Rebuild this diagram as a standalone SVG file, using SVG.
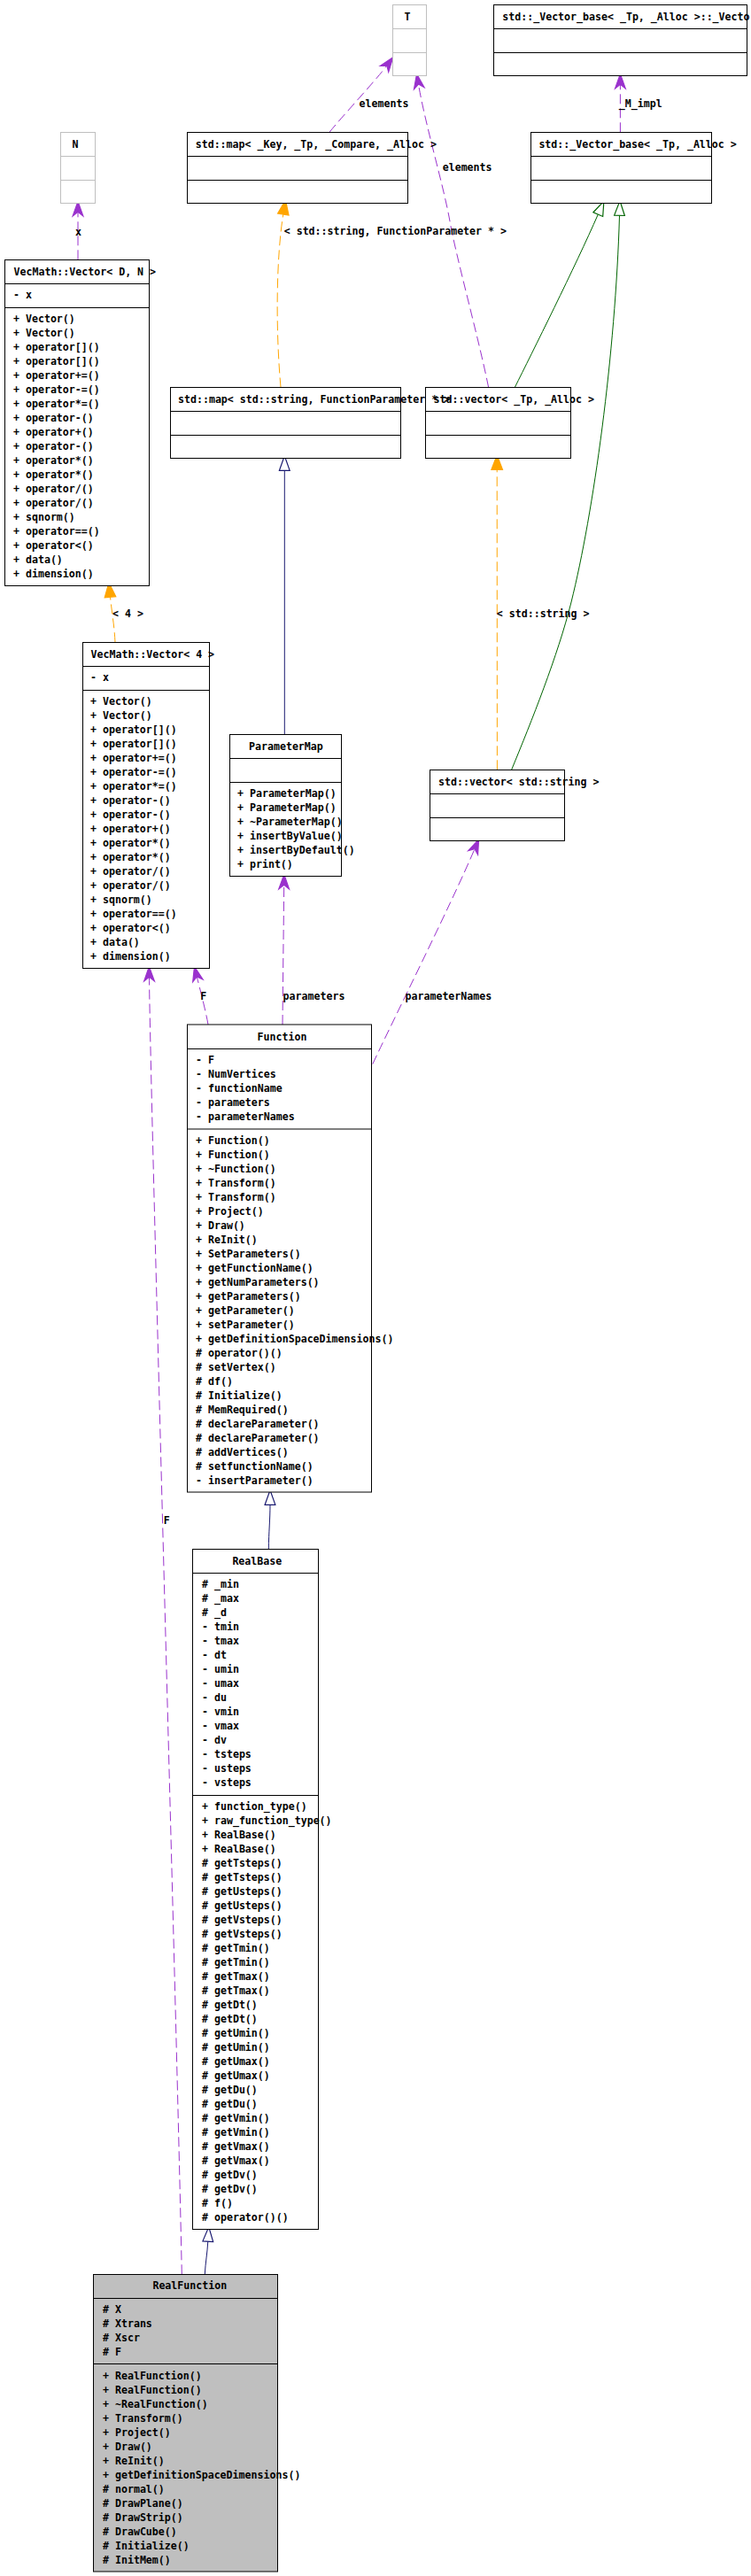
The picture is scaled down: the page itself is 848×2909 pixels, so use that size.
<svg xmlns="http://www.w3.org/2000/svg" width="848" height="2909" viewBox="0 0 848 2909">
<style>
text{font-family:"DejaVu Sans Mono","Liberation Mono",monospace;font-weight:bold;font-size:11.6px;fill:#000}
.m{text-anchor:middle}
.box{fill:#fff;stroke:#000;stroke-width:1}
.gb{fill:#fff;stroke:#bfbfbf;stroke-width:1}
.gf{fill:#bfbfbf;stroke:#000;stroke-width:1}
.dv{stroke:#000;stroke-width:1}
.dg{stroke:#bfbfbf;stroke-width:1}
.e{fill:none;stroke-width:1}
.pu{stroke:#9a32cd;stroke-dasharray:11,5;marker-end:url(#vee)}
.or{stroke:#ffa500;stroke-dasharray:11,5;marker-end:url(#tri)}
.gr{stroke:#006400;marker-end:url(#hg)}
.nv{stroke:#191970;marker-end:url(#hn)}
</style>
<defs>
<marker id="vee" markerUnits="userSpaceOnUse" orient="auto" refX="4" refY="0" markerWidth="20" markerHeight="20" viewBox="-1 -7 17 14" overflow="visible"><path d="M0,-5 L14,0 L0,5 L4,0 Z" fill="#9a32cd" stroke="#9a32cd" stroke-width="1"/></marker>
<marker id="tri" markerUnits="userSpaceOnUse" orient="auto" refX="0" refY="0" markerWidth="20" markerHeight="20" viewBox="-1 -7 16 14" overflow="visible"><path d="M0,-5 L13,0 L0,5 Z" fill="#ffa500" stroke="#ffa500" stroke-width="1"/></marker>
<marker id="hg" markerUnits="userSpaceOnUse" orient="auto" refX="0" refY="0" markerWidth="20" markerHeight="20" viewBox="-1 -7 17 14" overflow="visible"><path d="M0,-5 L14,0 L0,5 Z" fill="#fff" stroke="#006400" stroke-width="1"/></marker>
<marker id="hn" markerUnits="userSpaceOnUse" orient="auto" refX="0" refY="0" markerWidth="20" markerHeight="20" viewBox="-1 -7 17 14" overflow="visible"><path d="M0,-5 L14,0 L0,5 Z" fill="#fff" stroke="#191970" stroke-width="1"/></marker>
</defs>
<rect x="0" y="0" width="848" height="2909" fill="#fff"/>

<g id="edges">
<path class="e pu" d="M88,293.3 L88,239.3"/>
<text x="85" y="266">x</text>
<path class="e pu" d="M372,149.3 C385,133 425,90 436.8,74.1"/>
<text x="405.6" y="121">elements</text>
<path class="e pu" d="M551.6,437.3 C540,380 515,290 508,250 C501,210 480,140 472.5,95.1"/>
<text x="499.7" y="193">elements</text>
<path class="e pu" d="M700.4,149.3 L700.4,95.3"/>
<text x="698.8" y="121">_M_impl</text>
<path class="e or" d="M317,437.3 C311,370 312,290 319.8,242"/>
<text x="320.7" y="265">&lt; std::string, FunctionParameter * &gt;</text>
<path class="e gr" d="M581.4,437.3 C600,400 650,300 675.3,242.1"/>
<path class="e gr" d="M577.6,869.3 C600,815 630,740 645,680 C670,580 695,400 699.5,243.3"/>
<path class="e nv" d="M321.3,829.3 L321.3,531.3"/>
<path class="e or" d="M561.4,869.3 L561.2,530.3"/>
<text x="560.8" y="696.7">&lt; std::string &gt;</text>
<path class="e or" d="M130,725.3 C129,705 126,690 124.5,674.2"/>
<text x="127" y="696.7">&lt; 4 &gt;</text>
<path class="e pu" d="M319,1157 L320.7,999.3"/>
<text x="319.6" y="1129">parameters</text>
<path class="e pu" d="M420.8,1201.6 C440,1160 510,1020 536,958.6"/>
<text x="457.5" y="1129">parameterNames</text>
<path class="e pu" d="M235,1157 C232,1140 226,1118 222.3,1102.9"/>
<text x="226.3" y="1129">F</text>
<path class="e pu" d="M205.3,2568.2 C200,2300 170,1250 168.5,1103.3"/>
<text x="184.8" y="1721">F</text>
<path class="e nv" d="M303.3,1749.5 C303.5,1730 305,1715 305,1699.3"/>
<path class="e nv" d="M231.3,2568.2 C232,2555 234,2545 234.8,2531.2"/>
</g>

<g id="n_T">
<rect class="gb" x="443.5" y="5.5" width="38" height="80"/>
<line class="dg" x1="443.5" y1="32.5" x2="481.5" y2="32.5"/>
<line class="dg" x1="443.5" y1="59.5" x2="481.5" y2="59.5"/>
<text class="m" x="460" y="23">T</text>
</g>

<g id="n_vecimpl">
<rect class="box" x="557.5" y="5.5" width="286" height="80"/>
<line class="dv" x1="557.5" y1="32.5" x2="843.5" y2="32.5"/>
<line class="dv" x1="557.5" y1="59.5" x2="843.5" y2="59.5"/>
<text x="567.3" y="23">std::_Vector_base&lt; _Tp, _Alloc &gt;::_Vecto</text>
</g>

<g id="n_N">
<rect class="gb" x="68.5" y="149.5" width="39" height="80"/>
<line class="dg" x1="68.5" y1="176.5" x2="107.5" y2="176.5"/>
<line class="dg" x1="68.5" y1="203.5" x2="107.5" y2="203.5"/>
<text class="m" x="85" y="167">N</text>
</g>

<g id="n_mapkey">
<rect class="box" x="211.5" y="149.5" width="249" height="80"/>
<line class="dv" x1="211.5" y1="176.5" x2="460.5" y2="176.5"/>
<line class="dv" x1="211.5" y1="203.5" x2="460.5" y2="203.5"/>
<text x="220.7" y="167">std::map&lt; _Key, _Tp, _Compare, _Alloc &gt;</text>
</g>

<g id="n_vecbase">
<rect class="box" x="599.5" y="149.5" width="204" height="80"/>
<line class="dv" x1="599.5" y1="176.5" x2="803.5" y2="176.5"/>
<line class="dv" x1="599.5" y1="203.5" x2="803.5" y2="203.5"/>
<text x="608.4" y="167">std::_Vector_base&lt; _Tp, _Alloc &gt;</text>
</g>

<g id="n_vecDN">
<rect class="box" x="5.5" y="293.5" width="163" height="368"/>
<line class="dv" x1="5.5" y1="320.5" x2="168.5" y2="320.5"/>
<line class="dv" x1="5.5" y1="347.5" x2="168.5" y2="347.5"/>
<text x="15.5" y="311">VecMath::Vector&lt; D, N &gt;</text>
<text x="15" y="337.3">- x</text>
<text x="15" y="363.7"><tspan x="15" dy="0">+ Vector()</tspan><tspan x="15" dy="16">+ Vector()</tspan><tspan x="15" dy="16">+ operator[]()</tspan><tspan x="15" dy="16">+ operator[]()</tspan><tspan x="15" dy="16">+ operator+=()</tspan><tspan x="15" dy="16">+ operator-=()</tspan><tspan x="15" dy="16">+ operator*=()</tspan><tspan x="15" dy="16">+ operator-()</tspan><tspan x="15" dy="16">+ operator+()</tspan><tspan x="15" dy="16">+ operator-()</tspan><tspan x="15" dy="16">+ operator*()</tspan><tspan x="15" dy="16">+ operator*()</tspan><tspan x="15" dy="16">+ operator/()</tspan><tspan x="15" dy="16">+ operator/()</tspan><tspan x="15" dy="16">+ sqnorm()</tspan><tspan x="15" dy="16">+ operator==()</tspan><tspan x="15" dy="16">+ operator&lt;()</tspan><tspan x="15" dy="16">+ data()</tspan><tspan x="15" dy="16">+ dimension()</tspan></text>
</g>

<g id="n_vectp">
<rect class="box" x="480.5" y="437.5" width="164" height="80"/>
<line class="dv" x1="480.5" y1="464.5" x2="644.5" y2="464.5"/>
<line class="dv" x1="480.5" y1="491.5" x2="644.5" y2="491.5"/>
<text x="489.5" y="455">std::vector&lt; _Tp, _Alloc &gt;</text>
</g>

<g id="n_mapsf">
<rect class="box" x="192.5" y="437.5" width="260" height="80"/>
<line class="dv" x1="192.5" y1="464.5" x2="452.5" y2="464.5"/>
<line class="dv" x1="192.5" y1="491.5" x2="452.5" y2="491.5"/>
<text x="201" y="455">std::map&lt; std::string, FunctionParameter * &gt;</text>
</g>

<g id="n_vec4">
<rect class="box" x="93.5" y="725.5" width="143" height="368"/>
<line class="dv" x1="93.5" y1="752.5" x2="236.5" y2="752.5"/>
<line class="dv" x1="93.5" y1="779.5" x2="236.5" y2="779.5"/>
<text x="102.5" y="743">VecMath::Vector&lt; 4 &gt;</text>
<text x="102" y="769.3">- x</text>
<text x="102" y="795.7"><tspan x="102" dy="0">+ Vector()</tspan><tspan x="102" dy="16">+ Vector()</tspan><tspan x="102" dy="16">+ operator[]()</tspan><tspan x="102" dy="16">+ operator[]()</tspan><tspan x="102" dy="16">+ operator+=()</tspan><tspan x="102" dy="16">+ operator-=()</tspan><tspan x="102" dy="16">+ operator*=()</tspan><tspan x="102" dy="16">+ operator-()</tspan><tspan x="102" dy="16">+ operator-()</tspan><tspan x="102" dy="16">+ operator+()</tspan><tspan x="102" dy="16">+ operator*()</tspan><tspan x="102" dy="16">+ operator*()</tspan><tspan x="102" dy="16">+ operator/()</tspan><tspan x="102" dy="16">+ operator/()</tspan><tspan x="102" dy="16">+ sqnorm()</tspan><tspan x="102" dy="16">+ operator==()</tspan><tspan x="102" dy="16">+ operator&lt;()</tspan><tspan x="102" dy="16">+ data()</tspan><tspan x="102" dy="16">+ dimension()</tspan></text>
</g>

<g id="n_parammap">
<rect class="box" x="259.5" y="829.5" width="126" height="160"/>
<line class="dv" x1="259.5" y1="856.5" x2="385.5" y2="856.5"/>
<line class="dv" x1="259.5" y1="883.5" x2="385.5" y2="883.5"/>
<text class="m" x="322.9" y="847.3">ParameterMap</text>
<text x="268" y="900"><tspan x="268" dy="0">+ ParameterMap()</tspan><tspan x="268" dy="16">+ ParameterMap()</tspan><tspan x="268" dy="16">+ ~ParameterMap()</tspan><tspan x="268" dy="16">+ insertByValue()</tspan><tspan x="268" dy="16">+ insertByDefault()</tspan><tspan x="268" dy="16">+ print()</tspan></text>
</g>

<g id="n_vecstr">
<rect class="box" x="485.5" y="869.5" width="152" height="80"/>
<line class="dv" x1="485.5" y1="896.5" x2="637.5" y2="896.5"/>
<line class="dv" x1="485.5" y1="923.5" x2="637.5" y2="923.5"/>
<text x="495" y="887">std::vector&lt; std::string &gt;</text>
</g>

<g id="n_function">
<rect class="box" x="211.5" y="1157" width="208" height="528"/>
<line class="dv" x1="211.5" y1="1184.5" x2="419.5" y2="1184.5"/>
<line class="dv" x1="211.5" y1="1275" x2="419.5" y2="1275"/>
<text class="m" x="318.5" y="1175">Function</text>
<text x="221" y="1200.6"><tspan x="221" dy="0">- F</tspan><tspan x="221" dy="16">- NumVertices</tspan><tspan x="221" dy="16">- functionName</tspan><tspan x="221" dy="16">- parameters</tspan><tspan x="221" dy="16">- parameterNames</tspan></text>
<text x="221" y="1291.8"><tspan x="221" dy="0">+ Function()</tspan><tspan x="221" dy="16">+ Function()</tspan><tspan x="221" dy="16">+ ~Function()</tspan><tspan x="221" dy="16">+ Transform()</tspan><tspan x="221" dy="16">+ Transform()</tspan><tspan x="221" dy="16">+ Project()</tspan><tspan x="221" dy="16">+ Draw()</tspan><tspan x="221" dy="16">+ ReInit()</tspan><tspan x="221" dy="16">+ SetParameters()</tspan><tspan x="221" dy="16">+ getFunctionName()</tspan><tspan x="221" dy="16">+ getNumParameters()</tspan><tspan x="221" dy="16">+ getParameters()</tspan><tspan x="221" dy="16">+ getParameter()</tspan><tspan x="221" dy="16">+ setParameter()</tspan><tspan x="221" dy="16">+ getDefinitionSpaceDimensions()</tspan><tspan x="221" dy="16"># operator()()</tspan><tspan x="221" dy="16"># setVertex()</tspan><tspan x="221" dy="16"># df()</tspan><tspan x="221" dy="16"># Initialize()</tspan><tspan x="221" dy="16"># MemRequired()</tspan><tspan x="221" dy="16"># declareParameter()</tspan><tspan x="221" dy="16"># declareParameter()</tspan><tspan x="221" dy="16"># addVertices()</tspan><tspan x="221" dy="16"># setfunctionName()</tspan><tspan x="221" dy="16">- insertParameter()</tspan></text>
</g>

<g id="n_realbase">
<rect class="box" x="217.5" y="1749.5" width="142" height="768"/>
<line class="dv" x1="217.5" y1="1776.5" x2="359.5" y2="1776.5"/>
<line class="dv" x1="217.5" y1="2027.5" x2="359.5" y2="2027.5"/>
<text class="m" x="290.3" y="1767.1">RealBase</text>
<text x="228" y="1793.1"><tspan x="228" dy="0"># _min</tspan><tspan x="228" dy="16"># _max</tspan><tspan x="228" dy="16"># _d</tspan><tspan x="228" dy="16">- tmin</tspan><tspan x="228" dy="16">- tmax</tspan><tspan x="228" dy="16">- dt</tspan><tspan x="228" dy="16">- umin</tspan><tspan x="228" dy="16">- umax</tspan><tspan x="228" dy="16">- du</tspan><tspan x="228" dy="16">- vmin</tspan><tspan x="228" dy="16">- vmax</tspan><tspan x="228" dy="16">- dv</tspan><tspan x="228" dy="16">- tsteps</tspan><tspan x="228" dy="16">- usteps</tspan><tspan x="228" dy="16">- vsteps</tspan></text>
<text x="228" y="2043.9"><tspan x="228" dy="0">+ function_type()</tspan><tspan x="228" dy="16">+ raw_function_type()</tspan><tspan x="228" dy="16">+ RealBase()</tspan><tspan x="228" dy="16">+ RealBase()</tspan><tspan x="228" dy="16"># getTsteps()</tspan><tspan x="228" dy="16"># getTsteps()</tspan><tspan x="228" dy="16"># getUsteps()</tspan><tspan x="228" dy="16"># getUsteps()</tspan><tspan x="228" dy="16"># getVsteps()</tspan><tspan x="228" dy="16"># getVsteps()</tspan><tspan x="228" dy="16"># getTmin()</tspan><tspan x="228" dy="16"># getTmin()</tspan><tspan x="228" dy="16"># getTmax()</tspan><tspan x="228" dy="16"># getTmax()</tspan><tspan x="228" dy="16"># getDt()</tspan><tspan x="228" dy="16"># getDt()</tspan><tspan x="228" dy="16"># getUmin()</tspan><tspan x="228" dy="16"># getUmin()</tspan><tspan x="228" dy="16"># getUmax()</tspan><tspan x="228" dy="16"># getUmax()</tspan><tspan x="228" dy="16"># getDu()</tspan><tspan x="228" dy="16"># getDu()</tspan><tspan x="228" dy="16"># getVmin()</tspan><tspan x="228" dy="16"># getVmin()</tspan><tspan x="228" dy="16"># getVmax()</tspan><tspan x="228" dy="16"># getVmax()</tspan><tspan x="228" dy="16"># getDv()</tspan><tspan x="228" dy="16"># getDv()</tspan><tspan x="228" dy="16"># f()</tspan><tspan x="228" dy="16"># operator()()</tspan></text>
</g>

<g id="n_realfunction">
<rect class="gf" x="105.5" y="2568.5" width="208" height="335.5"/>
<line class="dv" x1="105.5" y1="2595.5" x2="313.5" y2="2595.5"/>
<line class="dv" x1="105.5" y1="2669.5" x2="313.5" y2="2669.5"/>
<text class="m" x="214.3" y="2585">RealFunction</text>
<text x="116" y="2611.7"><tspan x="116" dy="0"># X</tspan><tspan x="116" dy="16"># Xtrans</tspan><tspan x="116" dy="16"># Xscr</tspan><tspan x="116" dy="16"># F</tspan></text>
<text x="116" y="2686.5"><tspan x="116" dy="0">+ RealFunction()</tspan><tspan x="116" dy="16">+ RealFunction()</tspan><tspan x="116" dy="16">+ ~RealFunction()</tspan><tspan x="116" dy="16">+ Transform()</tspan><tspan x="116" dy="16">+ Project()</tspan><tspan x="116" dy="16">+ Draw()</tspan><tspan x="116" dy="16">+ ReInit()</tspan><tspan x="116" dy="16">+ getDefinitionSpaceDimensions()</tspan><tspan x="116" dy="16"># normal()</tspan><tspan x="116" dy="16"># DrawPlane()</tspan><tspan x="116" dy="16"># DrawStrip()</tspan><tspan x="116" dy="16"># DrawCube()</tspan><tspan x="116" dy="16"># Initialize()</tspan><tspan x="116" dy="16"># InitMem()</tspan></text>
</g>
</svg>
